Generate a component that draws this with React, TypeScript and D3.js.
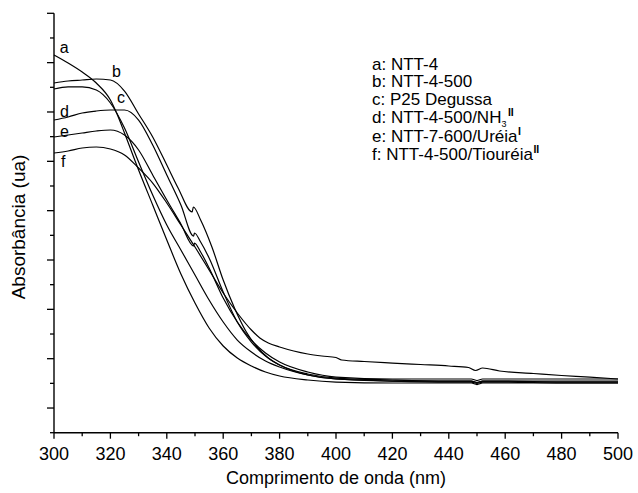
import React, { useEffect } from 'react';
import * as d3 from 'd3';

type Pt = [number, number];

// wavelength (nm), absorbance (ua)
const seriesA: Pt[] = [
  [300, 0.7155], [305, 0.6993], [310, 0.681], [315, 0.6587], [320, 0.6243], [322.5, 0.5939],
  [325, 0.5574], [330, 0.4824], [335, 0.4115], [340, 0.3405], [345, 0.2716], [350, 0.2128],
  [355, 0.1622], [360, 0.1257], [365, 0.1014], [370, 0.0852], [375, 0.073], [380, 0.0649],
  [390, 0.0568], [400, 0.0527], [420, 0.0507], [440, 0.0507], [448, 0.0507], [450, 0.0476],
  [452, 0.0507], [460, 0.0507], [480, 0.0507], [500, 0.0507],
];
const seriesB: Pt[] = [
  [300, 0.6587], [305, 0.6628], [310, 0.6648], [315, 0.6668], [320, 0.6648], [325, 0.6425],
  [330, 0.596], [335, 0.5493], [340, 0.4925], [344, 0.446], [349, 0.3973], [349.4, 0.4074],
  [352, 0.3811], [356, 0.3263], [360, 0.2594], [364, 0.2027], [368, 0.1561], [372, 0.1237],
  [376, 0.1014], [380, 0.0872], [385, 0.075], [390, 0.0669], [400, 0.0588], [420, 0.0547],
  [440, 0.0547], [448, 0.0547], [450, 0.0517], [452, 0.0547], [460, 0.0547], [480, 0.0527],
  [500, 0.0527],
];
const seriesC: Pt[] = [
  [300, 0.6466], [305, 0.6507], [310, 0.6507], [315, 0.6446], [320, 0.6182], [325, 0.5675],
  [330, 0.4986], [335, 0.4317], [340, 0.3709], [345, 0.3203], [350, 0.2696], [355, 0.2189],
  [360, 0.1743], [365, 0.1378], [370, 0.1135], [375, 0.0953], [380, 0.0831], [390, 0.0669],
  [400, 0.0588], [420, 0.0547], [440, 0.0527], [448, 0.0527], [450, 0.0497], [452, 0.0527],
  [460, 0.0527], [480, 0.0507], [500, 0.0507],
];
const seriesD: Pt[] = [
  [300, 0.5837], [305, 0.5898], [310, 0.598], [315, 0.602], [320, 0.604], [325, 0.604],
  [330, 0.5837], [335, 0.5331], [340, 0.4723], [345, 0.4115], [349.5, 0.3486], [349.8, 0.3547],
  [352, 0.3364], [355, 0.304], [360, 0.2351], [365, 0.1743], [370, 0.1338], [375, 0.1054],
  [380, 0.0872], [390, 0.069], [400, 0.0608], [420, 0.0568], [440, 0.0547], [448, 0.0547],
  [450, 0.0517], [452, 0.0547], [460, 0.0547], [480, 0.0547], [500, 0.0547],
];
const seriesE: Pt[] = [
  [300, 0.5493], [305, 0.5533], [310, 0.5574], [315, 0.5614], [320, 0.5635], [325, 0.5533],
  [330, 0.5229], [335, 0.4723], [340, 0.4216], [345, 0.373], [349.5, 0.3284], [349.8, 0.3344],
  [352, 0.3162], [355, 0.2838], [360, 0.2229], [365, 0.1743], [370, 0.1378], [375, 0.1115],
  [380, 0.0932], [390, 0.073], [400, 0.0628], [420, 0.0588], [440, 0.0588], [448, 0.0588],
  [450, 0.0557], [452, 0.0588], [460, 0.0588], [480, 0.0588], [500, 0.0588],
];
const seriesF: Pt[] = [
  [300, 0.5169], [305, 0.5209], [310, 0.527], [315, 0.529], [320, 0.525], [325, 0.5128],
  [330, 0.4864], [335, 0.456], [340, 0.4155], [345, 0.3709], [350, 0.3263], [355, 0.2797],
  [360, 0.2331], [365, 0.1926], [370, 0.1581], [373, 0.1419], [376, 0.1318], [380, 0.1237],
  [385, 0.1156], [390, 0.1095], [395, 0.1054], [400, 0.1024], [402, 0.0973], [410, 0.0943],
  [420, 0.0912], [430, 0.0882], [440, 0.0852], [447, 0.0821], [449.5, 0.0761], [452, 0.0811],
  [458, 0.075], [470, 0.07], [480, 0.0659], [490, 0.0628], [500, 0.0588],
];

const allSeries: Pt[][] = [seriesA, seriesB, seriesC, seriesD, seriesE, seriesF];

const xMajorTicks = [300, 320, 340, 360, 380, 400, 420, 440, 460, 480, 500];
const xMinorTicks = [310, 330, 350, 370, 390, 410, 430, 450, 470, 490];
const yMajorTicks = [0, 0.1, 0.2, 0.3, 0.4, 0.5, 0.6, 0.7, 0.8];
const yMinorTicks = [-0.05, 0.05, 0.15, 0.25, 0.35, 0.45, 0.55, 0.65, 0.75];

const curveLabels = ['a', 'b', 'c', 'd', 'e', 'f'];
const curveLabelAnchors: Pt[] = [[302, 0.7195], [320.6, 0.6709], [322.3, 0.6184], [302.1, 0.5897], [302.1, 0.5493], [302.5, 0.4885]];

const legendMain = ['a: NTT-4', 'b: NTT-4-500', 'c: P25 Degussa', 'd: NTT-4-500/NH', 'e: NTT-7-600/Uréia', 'f: NTT-4-500/Tiouréia'];
const legendSub = ['', '', '', '3', '', ''];
const legendSup = ['', '', '', 'II', 'I', 'II'];

const xTitle = 'Comprimento de onda (nm)';
const yTitle = 'Absorbância (ua)';

const W = 638;
const H = 493;
const left = 54;
const right = 618;
const top = 13.3;
const bottom = 432.7;

export default function App() {
  useEffect(() => {
    document.body.style.margin = '0';
  }, []);

  const x = d3.scaleLinear().domain([300, 500]).range([left, right]);
  const y = d3.scaleLinear().domain([-0.05, 0.8]).range([bottom, top]);
  const line = d3
    .line<Pt>()
    .x((d) => x(d[0]))
    .y((d) => y(d[1]))
    .curve(d3.curveMonotoneX);

  const font = "'Liberation Sans', Arial, Helvetica, sans-serif";
  const legendX = 372;
  const legendBaselines = [69.5, 87, 104.5, 123.3, 141.7, 160];

  return (
    <svg
      width={W}
      height={H}
      viewBox={`0 0 ${W} ${H}`}
      style={{ position: 'absolute', left: 0, top: 0, background: '#fff' }}
      fontFamily={font}
    >
      <rect x={0} y={0} width={W} height={H} fill="#fff" />
      {allSeries.map((s, i) => (
        <path key={i} d={line(s) || ''} fill="none" stroke="#000" strokeWidth={1.2} strokeLinejoin="round" />
      ))}
      {/* axes */}
      <line x1={left} x2={left} y1={top} y2={bottom} stroke="#000" strokeWidth={1.4} />
      <line x1={left} x2={right} y1={bottom} y2={bottom} stroke="#000" strokeWidth={1.4} />
      {xMajorTicks.map((t) => (
        <g key={'xM' + t}>
          <line x1={x(t)} x2={x(t)} y1={bottom} y2={bottom + 6} stroke="#000" strokeWidth={1.3} />
          <text x={x(t)} y={460} fontSize={18} textAnchor="middle" fill="#000">
            {t}
          </text>
        </g>
      ))}
      {xMinorTicks.map((t) => (
        <line key={'xm' + t} x1={x(t)} x2={x(t)} y1={bottom} y2={bottom + 3.5} stroke="#000" strokeWidth={1.3} />
      ))}
      {yMajorTicks.map((t) => (
        <line key={'yM' + t} x1={left - 7} x2={left} y1={y(t)} y2={y(t)} stroke="#000" strokeWidth={1.3} />
      ))}
      {yMinorTicks.map((t) => (
        <line key={'ym' + t} x1={left - 4} x2={left} y1={y(t)} y2={y(t)} stroke="#000" strokeWidth={1.3} />
      ))}
      <text x={(left + right) / 2} y={484} fontSize={18} textAnchor="middle" fill="#000">
        {xTitle}
      </text>
      <text transform={`translate(25, 227) rotate(-90)`} fontSize={19} textAnchor="middle" fill="#000">
        {yTitle}
      </text>
      {curveLabels.map((l, i) => (
        <text key={'cl' + l} x={x(curveLabelAnchors[i][0])} y={y(curveLabelAnchors[i][1])} fontSize={16} fill="#000">
          {l}
        </text>
      ))}
      {legendMain.map((t, i) => (
        <text key={'lg' + i} x={legendX} y={legendBaselines[i]} fontSize={17} fill="#000">
          {t}
          {legendSub[i] ? (
            <tspan fontSize={9} dy={4}>
              {legendSub[i]}
            </tspan>
          ) : null}
          {legendSup[i] ? (
            <tspan fontSize={10.5} fontWeight="bold" dy={legendSub[i] ? -11.5 : -7} dx={legendSub[i] ? 1.5 : 0.5}>
              {legendSup[i]}
            </tspan>
          ) : null}
        </text>
      ))}
    </svg>
  );
}
